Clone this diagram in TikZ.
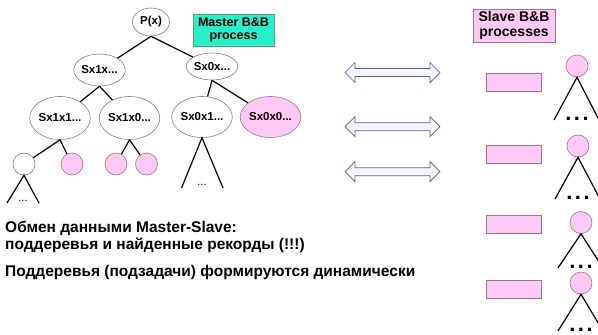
\documentclass[tikz,border=0pt]{standalone}
\usepackage{fontspec}
\setmainfont{Liberation Sans}
\usetikzlibrary{shapes.geometric}
\definecolor{nodepink}{RGB}{255,200,245}
\definecolor{pinkline}{RGB}{150,120,145}
\definecolor{masterteal}{RGB}{40,240,200}
\definecolor{tealline}{RGB}{100,150,135}
\definecolor{arrowfill}{RGB}{244,246,255}
\definecolor{arrowline}{RGB}{90,96,128}

\tikzset{
  sub/.style={ellipse, draw=gray, line width=0.6pt, inner sep=0pt,
    font=\fontsize{11.5}{12}\selectfont\bfseries},
  leaf/.style={circle, draw=gray, line width=0.6pt, minimum size=22pt, inner sep=0pt},
  slave/.style={circle, draw=pinkline, fill=nodepink, line width=0.6pt, minimum size=22pt, inner sep=0pt},
  task/.style={rectangle, draw=pinkline, fill=nodepink, line width=0.8pt, minimum width=55pt, minimum height=18pt, inner sep=0pt},
  edge/.style={black, line width=1.2pt},
  xarrow/.style={draw=arrowline, fill=arrowfill, line width=0.7pt, line join=miter},
  dots/.style={anchor=base, inner sep=0pt, font=\fontsize{11}{12}\selectfont},
  bigdots/.style={anchor=base, inner sep=0pt, font=\fontsize{22}{22}\selectfont\bfseries},
  caption/.style={anchor=base west, inner sep=0pt, font=\fontsize{15.5}{18}\selectfont\bfseries}
}

\begin{document}
\begin{tikzpicture}[x=1pt, y=-1pt]
  \useasboundingbox (0,0) rectangle (598,335);
  % Master tree
  \node[sub, minimum width=37pt, minimum height=28pt] (P) at (151,22) {P(x)};
  \node[sub, minimum width=41pt, minimum height=32pt] (s1) at (99.5,70) {Sx1x...};
  \node[sub, minimum width=40pt, minimum height=27pt] (s0) at (212,66.5) {Sx0x...};
  \node[sub, minimum width=56pt, minimum height=43pt] (s11) at (60,118) {Sx1x1...};
  \node[sub, minimum width=55pt, minimum height=43pt] (s10) at (129.5,118) {Sx1x0...};
  \node[sub, minimum width=58pt, minimum height=41pt] (s01) at (202,117) {Sx0x1...};
  \node[sub, minimum width=55pt, minimum height=41pt, draw=pinkline, fill=nodepink] (s00) at (270.5,117) {Sx0x0...};
  \node[leaf] (l1) at (24,164) {};
  \node[leaf, draw=pinkline, fill=nodepink] (l2) at (72,164) {};
  \node[leaf, draw=pinkline, fill=nodepink] (l3) at (116,164) {};
  \node[leaf, draw=pinkline, fill=nodepink] (l4) at (146.5,164) {};
  \node[rectangle, draw=tealline, fill=masterteal, line width=0.8pt, minimum width=81pt, minimum height=32pt,
    inner sep=0pt, align=center, font=\fontsize{12.5}{12.5}\selectfont\bfseries] (master) at (233.5,30) {Master B\&B\\process};
  % Draw the tree edges
  \draw[edge] (P.south) -- (s1);
  \draw[edge] (P.south) -- (s0);
  \draw[edge] (s1.south) -- (s11);
  \draw[edge] (s1.south) -- (s10);
  \draw[edge] (s0.south) -- (s01);
  \draw[edge] (s0.south) -- (s00);
  \draw[edge] (s11.south) -- (l1);
  \draw[edge] (s11.south) -- (l2);
  \draw[edge] (s10.south) -- (l3);
  \draw[edge] (s10.south) -- (l4);
  % Open subtrees
  \coordinate (l1l) at (7,203);
  \coordinate (l1r) at (39,203);
  \draw[edge] (l1l) -- (l1.south) -- (l1r);
  \node[dots] (l1d) at (23,201) {...};
  \coordinate (s01l) at (181.5,188);
  \coordinate (s01r) at (223,188);
  \draw[edge] (s01l) -- (s01.south) -- (s01r);
  \node[dots] (s01d) at (202,185) {...};
  % Exchange arrows
  \foreach \c in {72.5,126.7,171.7}
    \draw[xarrow] (345,\c) -- (355,\c-10) -- (355,\c-4) -- (430,\c-4) -- (430,\c-10) -- (440,\c)
      -- (430,\c+10) -- (430,\c+4) -- (355,\c+4) -- (355,\c+10) -- cycle;
  % Slave processes
  \node[rectangle, draw=pinkline, fill=nodepink, line width=0.8pt, minimum width=82pt, minimum height=33pt,
    inner sep=0pt, align=center, font=\fontsize{14}{14.5}\selectfont\bfseries] (slaves) at (514,25.5) {Slave B\&B\\processes};
  \foreach \i/\y in {1/82,2/154,3/224.5,4/289.5}
    \node[task] (q\i) at (513.5,\y) {};
  \foreach \i/\x/\y/\h in {1/577/66/43, 2/578/146/42, 3/581/222.5/34.5, 4/581/283/37} {
    \node[slave] (r\i) at (\x,\y) {};
    \coordinate (rl\i) at (\x-23,\y+11+\h);
    \coordinate (rr\i) at (\x+22,\y+11+\h);
    \draw[edge] (rl\i) -- (r\i.south) -- (rr\i);
    \node[bigdots] (rd\i) at (\x,\y+11+\h) {.\kern2.5pt.\kern2.5pt.};
  }
  % Captions
  \node[caption] (t1) at (5,232) {Обмен данными Master-Slave:};
  \node[caption] (t2) at (5,249.5) {поддеревья и найденные рекорды (!!!)};
  \node[caption] (t3) at (5,276) {Поддеревья (подзадачи) формируются динамически};
\end{tikzpicture}
\end{document}
